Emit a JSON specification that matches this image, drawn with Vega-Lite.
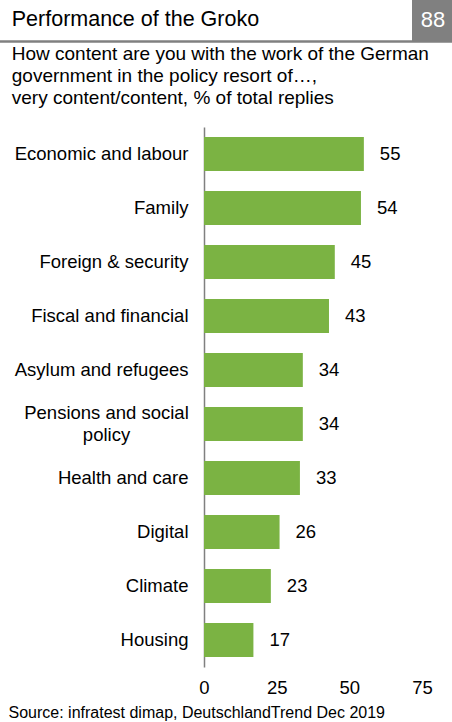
{
  "$schema": "https://vega.github.io/schema/vega-lite/v6.json",
  "width": 218,
  "height": 540,
  "autosize": {"type": "none"},
  "padding": {"left": 204, "top": 127, "right": 30, "bottom": 55},
  "background": "white",
  "config": {"font": "Liberation Sans", "view": {"stroke": null}},
  "title": {
    "text": "Performance of the Groko",
    "subtitle": ["How content are you with the work of the German", "government in the policy resort of…,", "very content/content, % of total replies"],
    "anchor": "start",
    "frame": "bounds",
    "font": "Liberation Sans",
    "subtitleFont": "Liberation Sans",
    "fontSize": 21.5,
    "fontWeight": "normal",
    "color": "#000000",
    "subtitleFontSize": 19,
    "subtitleColor": "#000000",
    "subtitleLineHeight": 22,
    "subtitlePadding": 15,
    "offset": -108,
    "dx": 13
  },
  "data": {
    "values": [
      {"policy": "Economic and labour", "share": 55},
      {"policy": "Family", "share": 54},
      {"policy": "Foreign & security", "share": 45},
      {"policy": "Fiscal and financial", "share": 43},
      {"policy": "Asylum and refugees", "share": 34},
      {"policy": "Pensions and social policy", "share": 34},
      {"policy": "Health and care", "share": 33},
      {"policy": "Digital", "share": 26},
      {"policy": "Climate", "share": 23},
      {"policy": "Housing", "share": 17}
    ]
  },
  "layer": [
    {
      "mark": {"type": "bar", "color": "#7BB343"},
      "encoding": {
        "y": {
          "field": "policy", "type": "nominal", "sort": null,
          "scale": {"paddingInner": 0.37, "paddingOuter": 0.185},
          "axis": {
            "title": null, "ticks": false, "tickSize": 0,
            "domainColor": "#808080", "domainWidth": 1.5,
            "labelFontSize": 18.5, "labelColor": "#000000",
            "labelPadding": {"condition": {"test": "datum.value == 'Pensions and social policy'", "value": 98}, "value": 16},
            "labelAlign": {"condition": {"test": "datum.value == 'Pensions and social policy'", "value": "center"}, "value": "right"},
            "labelOffset": {"condition": {"test": "datum.value == 'Pensions and social policy'", "value": -11}, "value": 0},
            "labelLimit": 300, "labelLineHeight": 22,
            "labelExpr": "datum.value == 'Pensions and social policy' ? ['Pensions and social', 'policy'] : datum.value"
          }
        },
        "x": {
          "field": "share", "type": "quantitative",
          "scale": {"domain": [0, 75], "nice": false},
          "axis": {
            "values": [0, 25, 50, 75], "grid": false, "domain": false, "ticks": false, "tickSize": 0,
            "labelFontSize": 18.5, "labelColor": "#000000", "labelPadding": 11, "labelFlush": false, "labelOverlap": false,
            "title": "Source: infratest dimap, DeutschlandTrend Dec 2019",
            "titleFontSize": 16, "titleFontWeight": "normal", "titleColor": "#000000",
            "titleX": -196, "titleY": 50, "titleAlign": "left", "titleBaseline": "alphabetic"
          }
        }
      }
    },
    {
      "mark": {"type": "text", "align": "left", "baseline": "middle", "dx": 16, "fontSize": 18.5, "color": "#000000"},
      "encoding": {
        "y": {"field": "policy", "type": "nominal", "sort": null},
        "x": {"field": "share", "type": "quantitative"},
        "text": {"field": "share", "type": "quantitative"}
      }
    },
    {
      "data": {"values": [{"page": "88"}]},
      "mark": {"type": "rule", "color": "#808080", "strokeWidth": 2.5},
      "encoding": {
        "x": {"value": -204}, "x2": {"value": 248},
        "y": {"value": -85.5}
      }
    },
    {
      "data": {"values": [{"page": "88"}]},
      "mark": {"type": "rect", "color": "#808080"},
      "encoding": {
        "x": {"value": 208}, "x2": {"value": 248},
        "y": {"value": -127}, "y2": {"value": -86}
      }
    },
    {
      "data": {"values": [{"page": "88"}]},
      "mark": {"type": "text", "align": "center", "baseline": "alphabetic", "fontSize": 22, "color": "#ffffff"},
      "encoding": {
        "x": {"value": 229}, "y": {"value": -100},
        "text": {"field": "page", "type": "nominal"}
      }
    }
  ]
}
